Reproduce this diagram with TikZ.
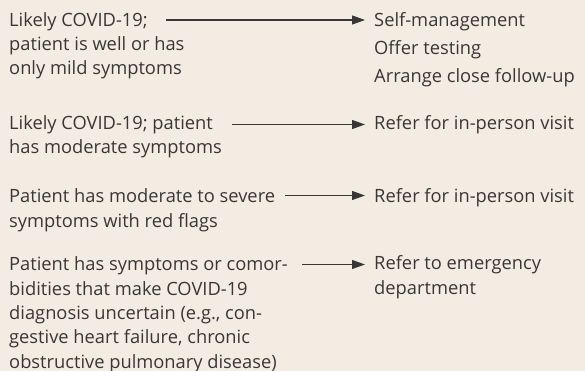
\documentclass[tikz,border=0pt]{standalone}
\usepackage{fontspec}
\setmainfont{Open Sans}
\usetikzlibrary{arrows.meta}
\definecolor{bg}{HTML}{F3ECE3}
\definecolor{ink}{HTML}{383736}
\begin{document}
\begin{tikzpicture}[x=1pt,y=-1pt,
  txt/.style={anchor=base west,inner sep=0pt,align=left,text=ink,
    font=\fontsize{18.3}{24.3}\selectfont},
  rtxt/.style={txt,font=\fontsize{18.3}{28.2}\selectfont},
  arr/.style={draw=ink,line width=1.2pt,-{Triangle[length=13pt,width=9pt]}}]
\fill[bg] (0,0) rectangle (585,371);
\useasboundingbox (0,0) rectangle (585,371);
% left conditions (anchored at the baseline of their last line)
\node[txt] (l1) at (9,75) {Likely COVID-19;\\patient is well or has\\only mild symptoms};
\node[txt] (l2) at (9,154) {Likely COVID-19; patient\\has moderate symptoms};
\node[txt] (l3) at (9,227) {Patient has moderate to severe\\symptoms with red flags};
\node[txt] (l4) at (9,368) {Patient has symptoms or comor-\\bidities that make COVID-19\\diagnosis uncertain (e.g., con-\\gestive heart failure, chronic\\obstructive pulmonary disease)};
% right actions
\node[rtxt] (r1) at (374,83) {Self-management\\Offer testing\\Arrange close follow-up};
\node[txt] (r2) at (374,130) {Refer for in-person visit};
\node[txt] (r3) at (374,202) {Refer for in-person visit};
\node[txt] (r4) at (374,294) {Refer to emergency\\department};
% arrow start points
\coordinate (a1) at (166,20);
\coordinate (a2) at (232,124.5);
\coordinate (a3) at (285,195.5);
\coordinate (a4) at (302,264.5);
\draw[arr] (a1) -- ([xshift=-9pt]a1 -| r1.west);
\draw[arr] (a2) -- ([xshift=-9pt]a2 -| r2.west);
\draw[arr] (a3) -- ([xshift=-9pt]a3 -| r3.west);
\draw[arr] (a4) -- ([xshift=-9pt]a4 -| r4.west);
\end{tikzpicture}
\end{document}
